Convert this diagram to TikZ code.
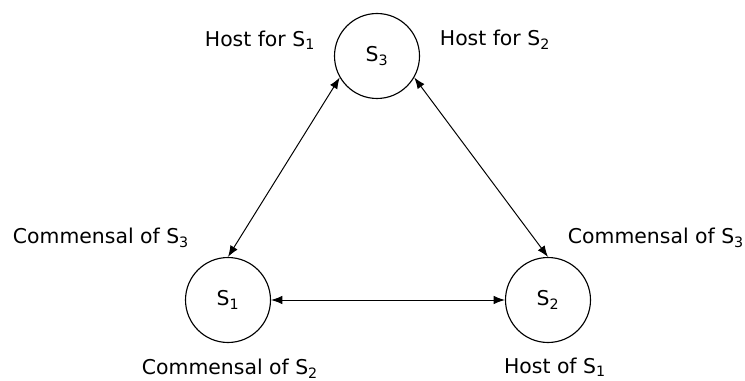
\documentclass[tikz,border=0pt]{standalone}
\usepackage{fontspec}
\setmainfont{DejaVu Sans}
\usetikzlibrary{arrows.meta}
\usetikzlibrary{positioning}
\newcommand{\Sp}[1]{S\textsubscript{#1}}

\begin{document}
\begin{tikzpicture}[x=0.025cm,y=-0.025cm,
  species/.style={draw,circle,minimum size=85*0.025cm,inner sep=0,line width=0.8pt},
  role/.style={font=\fontsize{14.5}{16}\selectfont},
  link/.style={{Latex[length=8pt,width=6pt]}-{Latex[length=8pt,width=6pt]},line width=0.7pt}]
\useasboundingbox (0,0) rectangle (745,381);

%species
\path (377,56) node (S3) [species,role] {\Sp{3}}
      (228,300) node (S1) [species,role] {\Sp{1}}
      (548,300) node (S2) [species,role] {\Sp{2}};

%roles
\path (260,40) node (hostS1) [role] {Host for \Sp{1}}
      (495,40) node (hostS2) [role] {Host for \Sp{2}}
      (101,238) node (comS3a) [role] {Commensal of \Sp{3}}
      (656,238) node (comS3b) [role] {Commensal of \Sp{3}}
      (230,369) node (comS2) [role] {Commensal of \Sp{2}}
      (555,367) node (hostof) [role] {Host of \Sp{1}};

\draw (S3.210) edge [link] (S1.north)
      (S3.330) edge [link] (S2.north)
      (S1.east) edge [link] (S2.west);

\end{tikzpicture}
\end{document}
